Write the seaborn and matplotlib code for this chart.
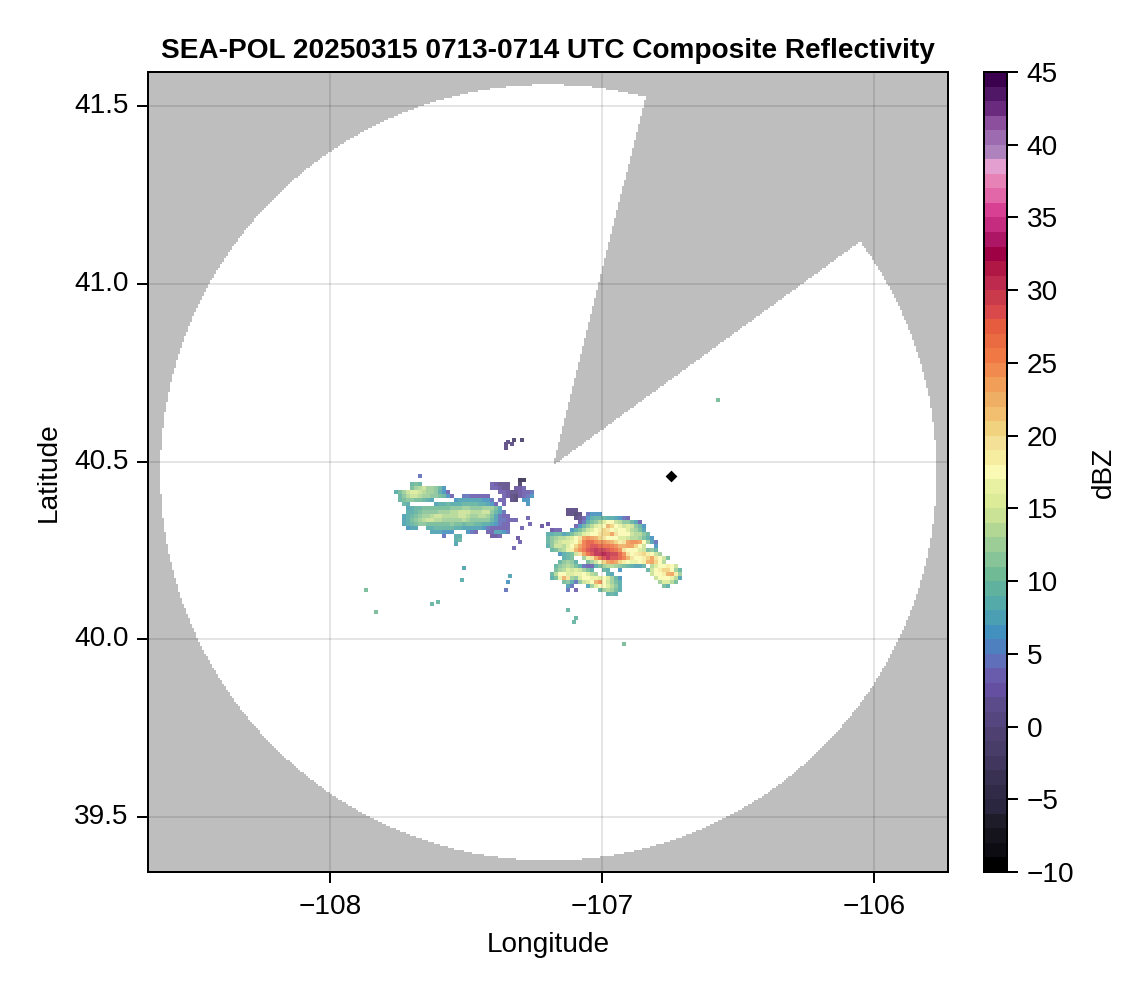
#!/usr/bin/env python3
import numpy as np
import matplotlib
matplotlib.use('Agg')
import matplotlib.pyplot as plt
from matplotlib.colors import ListedColormap
import seaborn as sns

# reflectivity colours, one per dBZ step from -10 to 44
dbz_colors = [
    '#000000', '#0c0c12', '#15131b', '#1f1c2a', '#2a2640', '#312b47', '#383152',
    '#41375e', '#483c68', '#4e4171', '#554680', '#5c4b8a', '#654fa0', '#6a5cac',
    '#5f6fb9', '#4e7fbe', '#4290bd', '#4a9fb2', '#53aaa8', '#60b29f', '#71ba96',
    '#87c498', '#9ccd97', '#b2d794', '#c9e296', '#dceb98', '#e8f1a2', '#fafab4',
    '#f6eda0', '#f4e197', '#f1d37f', '#f2be6f', '#eeae64', '#f09e58', '#f08a4f',
    '#ef7845', '#ea6a41', '#e55c3f', '#d9484a', '#c93a4a', '#be2a4d', '#b11744',
    '#9e0245', '#ad1565', '#c52c7f', '#d74093', '#e267a8', '#e682b5', '#e39fcf',
    '#ae82bc', '#9d6bb0', '#8b4f9e', '#6a2a7e', '#4f1766', '#3b004e',
]
cbar_ticks = [-10, -5, 0, 5, 10, 15, 20, 25, 30, 35, 40, 45]
lon_ticks = [-108, -107, -106]
lat_ticks = [39.5, 40.0, 40.5, 41.0, 41.5]

# western storm: (row, first column, dBZ values), read north to south
west_origin = (-107.761, 40.465)
west_runs = [
    (0, 6, [5]),
    (1, 31, [-3, -3]),
    (2, 4, [9, 10, 9]), (2, 24, [3, 2, 1, 1, 1]), (2, 31, [-2]),
    (3, 4, [10, 12, 13, 14, 12, 12, 11, 9, 6]), (3, 24, [4, 3, 2, 1, 1]), (3, 30, [2, 2, 3]),
    (4, 0, [8, 10, 12, 14, 15, 15, 14, 13, 12, 12, 11, 8, 6, 4]), (4, 26, [3, 3, 2]),
    (4, 29, [1, 1, 2, 4, 4, 5]),
    (5, 1, [9, 11, 13, 14, 14, 13, 12, 12, 11, 11, 10, 9, 6, 3]), (5, 17, [5, 5, 4, 4, 3, 3, 3]),
    (5, 27, [3, 2, 0, -1, 2, 4, 5, 6]),
    (6, 1, [9, 10, 11, 11, 10, 10, 9, 8, 7]), (6, 15, [6, 7, 7, 7, 7, 7, 7, 6, 6, 5]),
    (6, 26, [3, 3]), (6, 29, [0, -1]), (6, 32, [6, 6]),
    (7, 2, [9, 8]), (7, 10, [7, 8, 8, 9, 8, 8, 8, 9, 9, 9, 9, 8, 8, 7, 6, 4]), (7, 27, [3]),
    (7, 33, [6]),
    (8, 3, [7, 8, 9, 9, 10, 10, 10, 10, 10, 10, 10, 11, 11, 11, 12, 12, 11, 11, 11, 12, 12,
            12, 10, 7]),
    (9, 3, [8, 8, 9, 10, 11, 11, 11, 11, 12, 12, 12, 13, 13, 14, 14, 14, 13, 13, 13, 14, 14,
            11, 9, 7, 5]),
    (10, 2, [7, 8, 9, 10, 11, 12, 12, 13, 14, 14, 13, 13, 13, 13, 14, 14, 13, 12, 12, 13, 13,
             12, 10, 7, 5, 4, 4]),
    (11, 2, [7, 8, 10, 11, 12, 13, 14, 14, 13, 13, 12, 12, 12, 12, 12, 13, 12, 11, 11, 11, 11,
             11, 9, 7, 5, 5, 4, 4, 3]),
    (12, 2, [7, 8, 9, 10, 11, 11, 10, 10, 10, 10, 10, 10, 11, 10, 10, 9, 10, 10, 9, 9, 8,
             8, 7, 6, 5, 4, 3]),
    (13, 3, [6, 7, 7]), (13, 8, [8, 8, 9, 9, 9, 9, 9, 8, 8, 7, 7, 7, 7, 7, 6, 5, 4, 3, 3, 3, 4]),
    (14, 9, [7, 7, 7, 6, 6, 6]), (14, 18, [6, 5, 3]), (14, 23, [3, 4, 7, 7, 6, 5]),
    (15, 12, [5]), (15, 15, [8, 8]), (15, 24, [2, 2, 3]),
    (16, 15, [8, 9]),
    (17, 15, [7]),
]

# eastern storm
east_origin = (-107.203, 40.367)
east_runs = [
    (0, 5, [0, 0, 0]),
    (1, 5, [0, 0, -1, 0]), (1, 10, [5, 6, 6, 6]),
    (2, 7, [0, 1, 3, 6, 8, 9, 9, 9, 8, 8, 7, 6, 5, 4]),
    (3, 8, [2, 5, 8, 10, 11, 13, 15, 17, 18, 14, 13, 11, 11, 9, 7, 4]),
    (4, 7, [4, 6, 9, 11, 13, 15, 16, 18, 22, 21, 18, 16, 14, 15, 14, 11, 9, 6]),
    (5, 1, [2, 3, 3]),
    (5, 6, [6, 8, 10, 12, 14, 15, 17, 19, 21, 20, 18, 16, 18, 18, 15, 13, 12, 10, 7]),
    (6, 0, [8, 8, 9, 9, 7, 8, 10, 12, 13, 15, 16, 17, 18, 20, 21, 21, 23, 20, 17, 18, 17, 14,
            13, 13, 11, 9]),
    (7, 0, [9, 11, 12, 13, 13, 14, 15, 17, 20, 23, 24, 23, 22, 21, 20, 18, 18, 17, 15, 15, 14,
            13, 13, 12, 10, 8, 6]),
    (8, 0, [9, 11, 13, 14, 15, 15, 16, 18, 21, 25, 27, 27, 25, 24, 24, 23, 22, 21, 19, 20, 23,
            24, 24, 23, 18, 12, 7, 5]),
    (9, 0, [8, 11, 14, 14, 13, 15, 18, 21, 23, 25, 27, 28, 28, 27, 26, 26, 25, 24, 22, 22, 23,
            23, 21, 18, 14]), (9, 27, [6]),
    (10, 1, [9, 10, 12, 13, 16, 19, 22, 24, 26, 28, 29, 30, 29, 29, 28, 27, 26, 24, 20, 18, 18,
             17, 15, 14]), (10, 25, [10, 11, 9]),
    (11, 3, [6, 8, 9, 10, 14, 20, 23, 26, 28, 30, 30, 31, 30, 29, 29, 27, 24, 20, 18, 19, 20,
             21, 19, 17, 14, 12]),
    (12, 4, [8, 9, 10]),
    (12, 9, [12, 16, 20, 23, 26, 28, 30, 28, 28, 27, 25, 22, 20, 18, 18, 19, 21, 23, 20, 17,
             14, 10]),
    (13, 3, [9, 11, 12, 11, 8]),
    (13, 10, [10, 12, 14, 17, 21, 23, 24, 23, 21, 19, 17, 16, 16, 17, 19, 22, 23, 21, 17, 13]),
    (14, 2, [9, 11, 12, 13, 12, 10, 8, 5, 3, 3, 8, 10, 12, 13, 13, 12, 11, 10, 9, 8, 7, 7, 9]),
    (14, 26, [13, 15, 17, 18, 19, 18, 14]),
    (15, 2, [10, 12, 13, 15, 14, 15, 14, 12, 10, 8]), (15, 14, [9, 8]), (15, 18, [6]),
    (15, 25, [9, 14, 17, 19, 21, 21, 18, 12, 9]),
    (16, 1, [9, 13, 18, 17, 15, 15, 16, 16, 17, 15, 13, 12]), (16, 15, [8, 7]),
    (16, 26, [14, 17, 17, 19, 22, 23, 19, 12]),
    (17, 1, [8, 10, 16, 22, 20, 12, 11, 15, 17, 17, 16, 16, 15, 17, 15, 12, 9, 6]),
    (17, 27, [14, 17, 18, 18, 16, 13, 7]),
    (18, 4, [10, 11, 8, 5, 11, 14, 15, 17, 22, 24, 18, 14, 12, 10, 8]),
    (18, 28, [12, 15, 15, 13, 10]),
    (19, 5, [7, 5]), (19, 10, [7, 12, 15, 17, 17, 15, 13, 11, 8]), (19, 29, [10, 8]),
    (20, 5, [5]), (20, 7, [4]), (20, 13, [9, 12, 13, 12, 10, 8]),
    (21, 15, [8, 9, 8]),
]

# small isolated echoes
speck_lon = [-107.868, -107.835, -107.632, -107.607, -107.511, -107.522, -107.346,
             -107.357, -107.342, -107.129, -107.099, -107.110, -106.923, -106.574,
             -107.357, -107.335, -107.357, -107.346, -107.324, -107.298, -107.279,
             -107.268, -107.298, -107.224, -107.199, -107.309, -107.327, -107.305]
speck_lat = [40.140, 40.081, 40.101, 40.106, 40.202, 40.171, 40.165,
             40.140, 40.179, 40.084, 40.064, 40.050, 39.988, 40.674,
             40.551, 40.551, 40.539, 40.559, 40.565, 40.565, 40.342,
             40.328, 40.314, 40.323, 40.326, 40.286, 40.258, 40.278]
speck_dbz = [10, 10, 9, 9, 7, 8, 6, 5, 7, 9, 9, 9, 10, 10,
             0, 0, 0, 0, -2, -2, 3, 3, 3, 2, 2, 2, 3, 3]

# black diamond east of the storms
site_lon = [-106.745]
site_lat = [40.459]

# radar coverage
lon_min, lon_max = -108.669, -105.728
lat_min, lat_max = 39.345, 41.596
center_lon, center_lat = -107.197, 40.469
radius_lon, radius_lat = 1.4265, 1.0914
apex_lon, apex_lat = -107.18, 40.489
blocked_deg = (36.1, 75.9)
grid_size = 400
px_per_lon, px_per_lat = 272, 355.5


def lon_to_col(lon):
    return (np.asarray(lon) - lon_min) / (lon_max - lon_min) * grid_size


def lat_to_row(lat):
    return (lat_max - np.asarray(lat)) / (lat_max - lat_min) * grid_size


def stamp(grid, runs, origin):
    # every typed value covers two by two cells of the radar grid
    col0 = int(round(float(lon_to_col(origin[0]))))
    row0 = int(round(float(lat_to_row(origin[1]))))
    for r, first, values in runs:
        for k, v in enumerate(values):
            c = col0 + 2 * (first + k)
            grid[row0 + 2 * r:row0 + 2 * r + 2, c:c + 2] = v


# coverage mask on the radar grid
cols, rows = np.meshgrid(np.arange(grid_size) + 0.5, np.arange(grid_size) + 0.5)
lon = lon_min + cols / grid_size * (lon_max - lon_min)
lat = lat_max - rows / grid_size * (lat_max - lat_min)
in_disk = ((lon - center_lon) / radius_lon) ** 2 + ((lat - center_lat) / radius_lat) ** 2 <= 1
angle = np.degrees(np.arctan2((lat - apex_lat) * px_per_lat, (lon - apex_lon) * px_per_lon))
in_blocked = (angle > blocked_deg[0]) & (angle < blocked_deg[1])
covered = in_disk & ~in_blocked

dbz = np.full((grid_size, grid_size), np.nan)
stamp(dbz, west_runs, west_origin)
stamp(dbz, east_runs, east_origin)
for x, y, v in zip(speck_lon, speck_lat, speck_dbz):
    r, c = int(lat_to_row(y)), int(lon_to_col(x))
    dbz[r:r + 2, c:c + 2] = v

sns.set_theme(style='white')
plt.rcParams['font.family'] = ['Liberation Sans', 'DejaVu Sans']
plt.rcParams['text.color'] = 'black'
plt.rcParams['axes.labelcolor'] = 'black'
plt.rcParams['xtick.color'] = 'black'
plt.rcParams['ytick.color'] = 'black'
font_size = 10.08

fig = plt.figure(figsize=(5.73, 4.95), dpi=200)
ax = fig.add_axes([148 / 1146, 118 / 990, 800 / 1146, 800 / 990])
cax = fig.add_axes([984 / 1146, 118 / 990, 23 / 1146, 800 / 990])

ax.set_facecolor('#bebebe')
sns.heatmap(covered.astype(float), mask=~covered, cmap=ListedColormap(['white']),
            cbar=False, ax=ax, square=False)
sns.heatmap(dbz, mask=np.isnan(dbz), cmap=ListedColormap(dbz_colors), vmin=-10, vmax=45,
            alpha=0.9, ax=ax, cbar_ax=cax, square=False)
# the data is see-through, the colour bar is not
ax.collections[-1].colorbar.solids.set_alpha(1)
sns.scatterplot(x=lon_to_col(site_lon), y=lat_to_row(site_lat), marker='D', color='black',
                s=9, linewidth=0, legend=False, ax=ax)

ax.set_xlim(0, grid_size)
ax.set_ylim(grid_size, 0)
ax.set_xticks(lon_to_col(lon_ticks))
ax.set_xticklabels([f'\u2212{abs(t)}' for t in lon_ticks], rotation=0, fontsize=font_size)
ax.set_yticks(lat_to_row(lat_ticks))
ax.set_yticklabels([f'{t:.1f}' for t in lat_ticks], rotation=0, fontsize=font_size)
ax.set_axisbelow(False)
ax.grid(True, color='black', alpha=0.1, linewidth=0.72)
ax.tick_params(length=4, width=0.72, color='black', bottom=True, left=True, pad=3)
ax.tick_params(axis='x', pad=4)
ax.set_xlabel('Longitude', fontsize=font_size, labelpad=4.2)
ax.set_ylabel('Latitude', fontsize=font_size, labelpad=4.5)
ax.set_title('SEA-POL 20250315 0713-0714 UTC Composite Reflectivity',
             fontsize=font_size, fontweight='bold', pad=5)
for side in ax.spines.values():
    side.set_visible(True)
    side.set_color('black')
    side.set_linewidth(0.72)

cax.set_yticks(cbar_ticks)
cax.set_yticklabels([str(t).replace('-', '\u2212') for t in cbar_ticks], fontsize=font_size)
cax.tick_params(length=4, width=0.72, color='black', right=True, left=False, pad=3)
cax.set_ylabel('dBZ', fontsize=font_size, labelpad=6)
cax.yaxis.set_label_position('right')
for side in cax.spines.values():
    side.set_visible(True)
    side.set_color('black')
    side.set_linewidth(0.72)

fig.savefig('out.png', dpi=200)
